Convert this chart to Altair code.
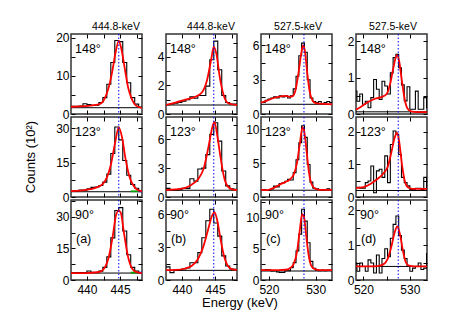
import json
import altair as alt
import pandas as pd

FONT = "Liberation Sans"

# ---------------- data ----------------
angles = ["148°", "123°", "90°"]
tags = ["(a)", "(b)", "(c)", "(d)"]
line_titles = ["444.8-keV", "444.8-keV", "527.5-keV", "527.5-keV"]
peak_E = [444.8, 444.8, 527.5, 527.5]

bin_start = [437.6, 437.6, 518.0, 518.0]
bin_width = [0.6, 0.6, 0.6, 0.6]
x_domain = [[437.6, 448.3], [437.6, 448.3], [518.3, 533.5], [518.4, 533.7]]
x_labels = [[440, 445], [440, 445], [520, 530], [520, 530]]
x_ticks = [[440, 442.5, 445, 447.5], [440, 442.5, 445, 447.5],
           [520, 525, 530], [520, 525, 530]]

y_max = [[21, 35, 38], [5.6, 8.3, 7.3], [7.0, 11.8, 12.9], [2.2, 2.45, 2.3]]
y_labels = [[[0, 10, 20], [0, 15, 30], [0, 15, 30]],
            [[0, 2, 4], [0, 3, 6], [0, 3, 6]],
            [[0, 3, 6], [0, 5, 10], [0, 5, 10]],
            [[0, 1, 2], [0, 1, 2], [0, 1, 2]]]
y_ticks = [[[0, 5, 10, 15, 20], [0, 7.5, 15, 22.5, 30], [0, 7.5, 15, 22.5, 30, 37.5]],
           [[0, 1, 2, 3, 4, 5], [0, 1.5, 3, 4.5, 6, 7.5], [0, 1.5, 3, 4.5, 6]],
           [[0, 1.5, 3, 4.5, 6], [0, 2.5, 5, 7.5, 10], [0, 2.5, 5, 7.5, 10, 12.5]],
           [[0, 0.5, 1, 1.5, 2], [0, 0.5, 1, 1.5, 2], [0, 0.5, 1, 1.5, 2]]]

# histogram counts (units of 10^2)
h_a148 = [2.0, 2.0, 2.1, 2.7, 2.5, 2.3, 2.3, 3.0, 4.3, 7.8, 13.5, 19.3, 19.0, 13.5, 8.2, 4.3, 2.6, 1.8]
h_a123 = [2.6, 2.7, 3.0, 3.0, 3.6, 4.2, 4.4, 5.0, 6.5, 10.0, 19.0, 30.6, 25.0, 16.0, 9.5, 5.5, 3.8, 2.8]
h_a90 = [3.4, 3.4, 3.5, 3.5, 4.3, 3.6, 3.5, 4.2, 6.0, 11.0, 20.0, 33.0, 34.4, 23.3, 12.0, 6.0, 4.3, 3.5]
h_b148 = [0.65, 0.7, 0.75, 0.8, 0.9, 1.0, 1.2, 1.1, 1.3, 1.3, 1.95, 3.8, 5.1, 3.1, 1.3, 0.8, 0.7, 0.7]
h_b123 = [0.9, 0.75, 0.7, 0.75, 0.9, 0.9, 1.9, 1.65, 2.9, 3.0, 4.4, 6.5, 7.7, 5.8, 2.7, 1.15, 0.85, 0.8]
h_b90 = [1.2, 0.67, 0.88, 0.9, 1.0, 1.1, 1.58, 1.58, 2.5, 3.86, 5.4, 6.45, 5.2, 4.0, 2.2, 1.28, 1.0, 0.97]
h_c148 = [1.0, 1.0, 1.2, 1.3, 1.4, 1.5, 1.4, 1.6, 1.5, 1.6, 1.4, 1.6, 2.2, 3.3, 5.1, 6.2, 5.4, 3.0,
          1.4, 1.1, 1.0, 1.1, 0.9, 1.0, 1.1, 1.0, 1.0]
h_c123 = [1.1, 1.1, 1.0, 1.0, 1.2, 1.6, 1.5, 2.0, 2.1, 2.3, 2.6, 2.5, 3.6, 5.5, 8.0, 10.5, 8.8, 4.8,
          2.2, 1.3, 1.2, 1.1, 1.0, 1.1, 1.2, 1.1, 1.1]
h_c90 = [1.55, 1.6, 1.7, 1.65, 1.45, 1.5, 1.3, 1.2, 1.2, 1.5, 1.5, 2.0, 2.8, 4.7, 7.4, 11.4, 9.5, 6.0,
         3.0, 1.9, 1.6, 1.5, 1.6, 1.5, 1.6, 1.55, 1.55]
h_d148 = [0.63, 0.35, 0.55, 0.27, 0.35, 0.17, 0.45, 0.95, 0.68, 0.4, 0.9, 0.77, 0.55, 1.13, 1.55, 1.64,
          1.27, 0.8, 0.36, 0.75, 0.13, 0.13, 0.63, 0.13, 0.13, 0.45, 0.17]
h_d123 = [0.3, 0.3, 0.27, 0.27, 0.44, 0.49, 0.95, 0.13, 0.8, 0.85, 0.6, 1.26, 0.44, 1.61, 2.02, 1.92,
          1.3, 0.6, 0.44, 0.34, 0.23, 0.23, 0.27, 0.27, 0.23, 0.6, 0.23]
h_d90 = [0.49, 0.25, 0.49, 0.39, 0.25, 0.58, 0.49, 0.2, 0.72, 0.2, 0.62, 0.9, 0.67, 1.2, 1.6, 1.84,
         1.28, 0.86, 0.62, 0.39, 0.25, 0.34, 0.39, 0.49, 0.3, 0.34, 0.76]

# fitted curves (energy, counts)
f_a148_E = [437.6, 439, 440.5, 441.8, 442.5, 443.2, 443.8, 444.3, 444.8, 445.2, 445.7, 446.2, 446.8, 447.4, 448.3]
f_a148_v = [1.9, 2.0, 2.2, 2.5, 3.5, 6.5, 11, 16, 19.2, 17, 12, 7, 3.8, 2.2, 1.6]
f_a123_E = [437.6, 439, 440.5, 441.5, 442.3, 443, 443.6, 444.2, 444.8, 445.3, 445.8, 446.4, 447, 447.6, 448.3]
f_a123_v = [2.6, 2.8, 3.4, 4.2, 5.5, 8.5, 14, 23, 30.5, 26, 17, 9, 5, 3.2, 2.6]
f_a90_E = [437.6, 439, 440.5, 441.8, 442.6, 443.3, 443.9, 444.4, 444.8, 445.1, 445.6, 446.2, 446.8, 447.5, 448.3]
f_a90_v = [3.3, 3.3, 3.4, 3.8, 5.5, 11, 21, 31, 33, 32, 22, 11, 5.5, 3.7, 3.3]
f_b148_E = [437.6, 439, 440.5, 442, 443, 443.8, 444.4, 444.8, 445.2, 445.7, 446.3, 447, 448.4]
f_b148_v = [0.63, 0.8, 1.0, 1.2, 1.5, 2.4, 3.8, 4.7, 4.2, 2.6, 1.3, 0.75, 0.62]
f_b123_E = [437.6, 439, 440.5, 441.5, 442.5, 443.3, 444.0, 444.6, 444.9, 445.3, 445.8, 446.3, 446.9, 447.6, 448.4]
f_b123_v = [0.72, 0.8, 0.95, 1.3, 1.9, 3.0, 5.2, 7.3, 7.8, 6.5, 4.2, 2.2, 1.1, 0.8, 0.72]
f_b90_E = [437.6, 439, 440.5, 441.5, 442.4, 443.2, 443.9, 444.5, 444.9, 445.3, 445.8, 446.3, 446.9, 447.5, 448.4]
f_b90_v = [0.9, 0.92, 1.05, 1.3, 1.9, 3.0, 4.5, 5.8, 6.2, 5.5, 3.8, 2.3, 1.3, 1.0, 0.92]
f_c148_E = [518.3, 519.5, 521, 522.5, 523.5, 524.5, 525.2, 525.8, 526.4, 527.0, 527.3, 527.7, 528.2, 528.7,
            529.3, 530, 531, 533.6]
f_c148_v = [1.0, 1.15, 1.4, 1.55, 1.58, 1.5, 1.6, 2.3, 3.8, 5.5, 6.0, 5.5, 3.6, 2.0, 1.2, 0.95, 0.9, 0.85]
f_c123_E = [518.3, 519.5, 520.5, 521.5, 522.5, 523.5, 524.5, 525.3, 526.0, 526.6, 527.2, 527.6, 528.1, 528.6,
            529.2, 530, 531, 533.6]
f_c123_v = [1.1, 1.0, 1.2, 1.5, 1.9, 2.2, 2.6, 3.3, 5.0, 7.8, 10.3, 9.5, 6.5, 3.5, 1.8, 1.2, 1.05, 1.05]
f_c90_E = [518.3, 520, 522, 523.5, 524.5, 525.3, 526.0, 526.6, 527.1, 527.5, 528.0, 528.5, 529.0, 529.7, 531, 533.6]
f_c90_v = [1.6, 1.6, 1.6, 1.65, 1.9, 2.6, 4.5, 8, 10.6, 10.2, 7, 4, 2.4, 1.8, 1.6, 1.6]
f_d148_E = [518.4, 519.5, 521, 522.5, 524, 525, 525.8, 526.5, 527.2, 527.7, 528.3, 528.9, 529.5, 530.3, 531.5, 533.7]
f_d148_v = [0.12, 0.2, 0.33, 0.42, 0.47, 0.55, 0.85, 1.3, 1.62, 1.45, 0.9, 0.4, 0.15, 0.07, 0.05, 0.05]
f_d123_E = [518.4, 520, 521.5, 523, 524.3, 525.3, 526, 526.7, 527.2, 527.7, 528.3, 528.9, 529.6, 530.5, 533.7]
f_d123_v = [0.27, 0.3, 0.4, 0.55, 0.72, 0.95, 1.35, 1.8, 1.97, 1.7, 1.0, 0.5, 0.3, 0.25, 0.25]
f_d90_E = [518.4, 521, 523, 524.3, 525.2, 526, 526.7, 527.3, 527.9, 528.5, 529.1, 529.8, 531, 533.7]
f_d90_v = [0.39, 0.39, 0.4, 0.45, 0.6, 0.95, 1.35, 1.54, 1.3, 0.85, 0.52, 0.41, 0.39, 0.39]

# flat background levels
bg_a = [1.65, 2.3, 3.3]
bg_b = [0.63, 0.7, 0.88]
bg_c = [0.85, 1.0, 1.45]
bg_d = [0.06, 0.2, 0.39]

# small extra components (col a, rows 123 and 90)
g_E = [446.6, 447.8]
g_v = [[2.5, 2.5], [3.5, 3.5]]
bl_E = [447.8, 448.3]

HIST = [[h_a148, h_a123, h_a90], [h_b148, h_b123, h_b90],
        [h_c148, h_c123, h_c90], [h_d148, h_d123, h_d90]]
FIT_E = [[f_a148_E, f_a123_E, f_a90_E], [f_b148_E, f_b123_E, f_b90_E],
         [f_c148_E, f_c123_E, f_c90_E], [f_d148_E, f_d123_E, f_d90_E]]
FIT_V = [[f_a148_v, f_a123_v, f_a90_v], [f_b148_v, f_b123_v, f_b90_v],
         [f_c148_v, f_c123_v, f_c90_v], [f_d148_v, f_d123_v, f_d90_v]]
BG = [bg_a, bg_b, bg_c, bg_d]

W, H = 71, 80
TICK = 4


def make_axis(orient, values, labels, show, pad):
    expr = "indexof(%s, datum.value) >= 0 ? format(datum.value, 'd') : ''" % json.dumps(labels)
    return alt.Axis(orient=orient, values=values, labels=show, labelExpr=expr,
                    domain=False, grid=False, ticks=True, tickSize=TICK, offset=-TICK,
                    tickColor="black", tickWidth=1, labelFont=FONT, labelFontSize=12,
                    labelColor="black", labelPadding=pad, labelFlush=False,
                    labelOverlap=False, title=None)


def panel(c, r):
    xs = alt.Scale(domain=x_domain[c], nice=False, zero=False)
    ys = alt.Scale(domain=[0, y_max[c][r]], nice=False, zero=False)
    xa = make_axis("bottom", x_ticks[c], x_labels[c], r == 2, 4)
    ya = make_axis("left", y_ticks[c][r], y_labels[c][r], True, 2)

    def X(f):
        return alt.X(f, type="quantitative", scale=xs, axis=xa)

    def Y(f):
        return alt.Y(f, type="quantitative", scale=ys, axis=ya)

    counts = HIST[c][r]
    edges = [bin_start[c] + bin_width[c] * i for i in range(len(counts) + 1)]
    hdf = pd.DataFrame({"E": edges, "n": counts + [counts[-1]]})
    fdf = pd.DataFrame({"E": FIT_E[c][r], "n": FIT_V[c][r]})

    layers = [
        alt.Chart(hdf).mark_line(interpolate="step-after", color="black",
                                 strokeWidth=1.1, clip=True).encode(x=X("E"), y=Y("n")),
        alt.Chart(pd.DataFrame({"n": [BG[c][r]]})).mark_rule(
            color="black", strokeWidth=1).encode(y=Y("n")),
    ]
    if c == 0 and r > 0:
        layers.append(alt.Chart(pd.DataFrame({"E": g_E, "n": g_v[r - 1]})).mark_line(
            color="#00a000", strokeWidth=1.8, clip=True).encode(x=X("E"), y=Y("n")))
        layers.append(alt.Chart(pd.DataFrame({"E": bl_E, "n": g_v[r - 1]})).mark_line(
            color="blue", strokeWidth=1.8, clip=True).encode(x=X("E"), y=Y("n")))
    layers += [
        alt.Chart(fdf).mark_line(interpolate="monotone", color="red",
                                 strokeWidth=1.8, clip=True).encode(x=X("E"), y=Y("n")),
        alt.Chart(pd.DataFrame({"E": [peak_E[c]]})).mark_rule(
            color="blue", strokeDash=[1.5, 2], strokeWidth=1).encode(x=X("E")),
        alt.Chart(pd.DataFrame({"t": [angles[r]]})).mark_text(
            align="left", baseline="middle", font=FONT, fontSize=12.5, color="black").encode(
            text="t:N", x=alt.value(4), y=alt.value(15)),
    ]
    if r == 2:
        layers.append(alt.Chart(pd.DataFrame({"t": [tags[c]]})).mark_text(
            align="left", baseline="middle", font=FONT, fontSize=12.5, color="black").encode(
            text="t:N", x=alt.value(5), y=alt.value(39)))
    if r == 0:
        layers.append(alt.Chart(pd.DataFrame({"t": [line_titles[c]]})).mark_text(
            align="center", baseline="middle", font=FONT, fontSize=10.5, color="black").encode(
            text="t:N", x=alt.value(45 if c < 2 else 37), y=alt.value(-7.5)))
    if c == 0 and r == 1:
        layers.append(alt.Chart(pd.DataFrame({"t": ["Counts (10²)"]})).mark_text(
            align="center", baseline="middle", font=FONT, fontSize=13, angle=270,
            color="black").encode(text="t:N", x=alt.value(-40), y=alt.value(40)))
    if c == 1 and r == 2:
        layers.append(alt.Chart(pd.DataFrame({"t": ["Energy (keV)"]})).mark_text(
            align="center", baseline="middle", font=FONT, fontSize=13,
            color="black").encode(text="t:N", x=alt.value(74), y=alt.value(103)))

    main = alt.layer(*layers)
    xt = make_axis("top", x_ticks[c], [], False, 2)
    yr = make_axis("right", y_ticks[c][r], [], False, 2)
    mirror = alt.Chart(fdf).mark_line(opacity=0).encode(
        x=alt.X("E", type="quantitative", scale=xs, axis=xt),
        y=alt.Y("n", type="quantitative", scale=ys, axis=yr))
    return alt.layer(main, mirror).resolve_scale(
        x="independent", y="independent").properties(width=W, height=H)


panels = [panel(c, r) for r in range(3) for c in range(4)]
chart = alt.concat(*panels, columns=4, spacing={"row": 3, "column": 24},
                   bounds="flush").properties(
    padding={"left": 16, "top": 12, "right": 5, "bottom": 5}
).configure_view(stroke="#333333", strokeWidth=1.5)

chart.save("out.html", embed_options={"renderer": "svg", "actions": False})
